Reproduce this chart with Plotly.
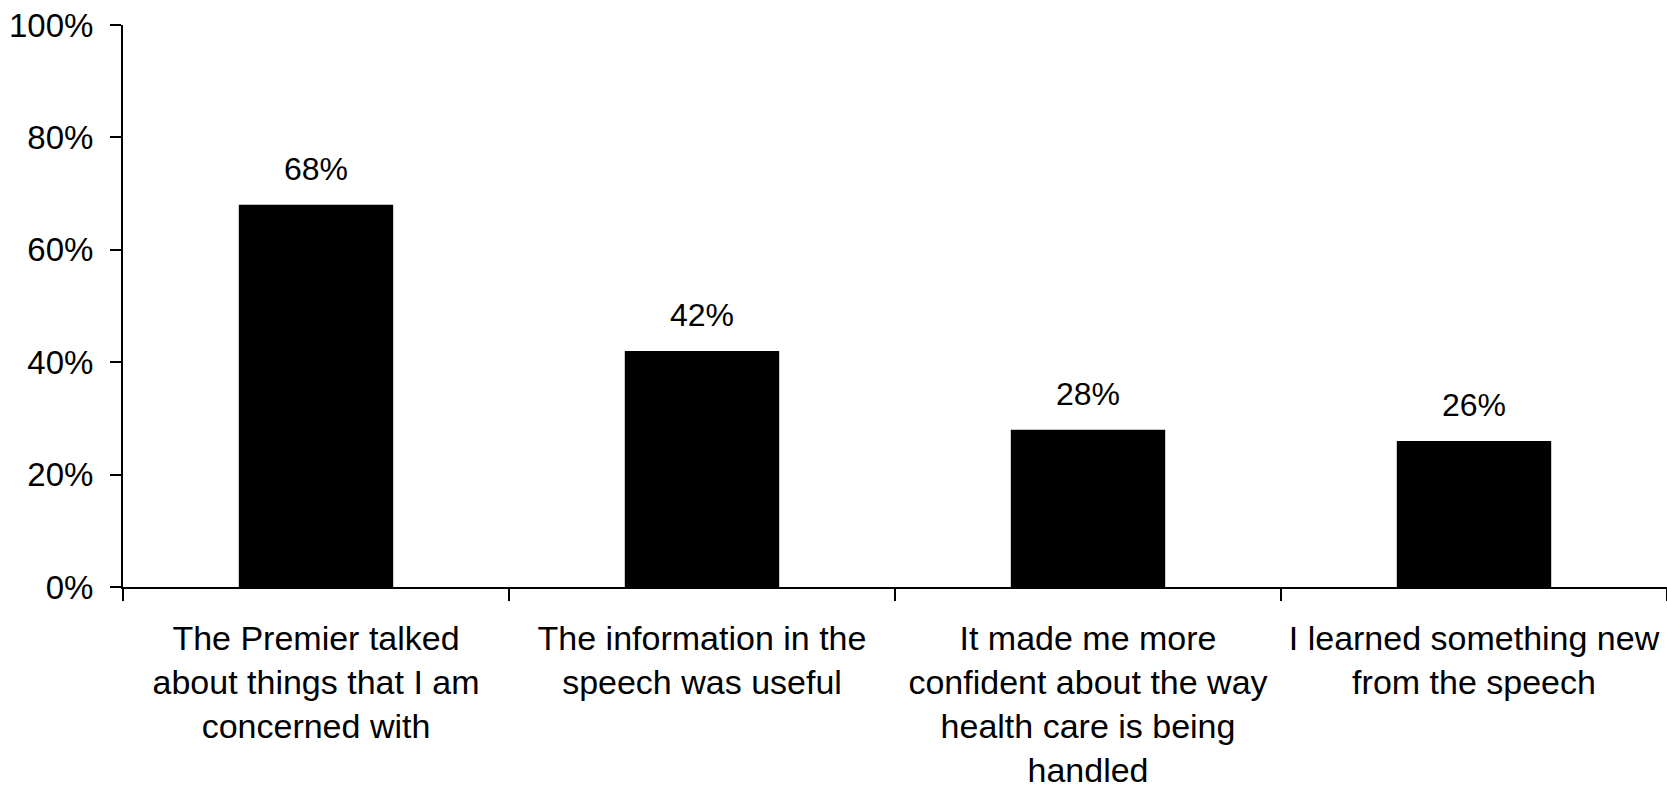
import plotly.graph_objects as go

categories = [
    "The Premier talked<br>about things that I am<br>concerned with",
    "The information in the<br>speech was useful",
    "It made me more<br>confident about the way<br>health care is being<br>handled",
    "I learned something new<br>from the speech",
]
values = [68, 42, 28, 26]
value_labels = ["68%", "42%", "28%", "26%"]
y_ticks = [0, 20, 40, 60, 80, 100]
y_tick_labels = ["0%", "20%", "40%", "60%", "80%", "100%"]

FONT = "Liberation Sans, Arial, sans-serif"

fig = go.Figure()
fig.add_trace(go.Bar(
    x=categories, y=values,
    marker=dict(color="#000000", line=dict(width=0)),
    width=0.4,
    hoverinfo="skip",
))

for c, v, t in zip(categories, values, value_labels):
    fig.add_annotation(x=c, y=v, text=t, showarrow=False, xref="x", yref="y",
                       yanchor="bottom", yshift=16,
                       font=dict(family=FONT, size=32, color="#000000"))

fig.update_layout(
    width=1667, height=791,
    margin=dict(l=123, r=0, t=25, b=204),
    paper_bgcolor="white", plot_bgcolor="white",
    showlegend=False,
    font=dict(family=FONT, size=33, color="#000000"),
)
fig.update_xaxes(
    type="category",
    automargin=False,
    tickson="boundaries",
    ticks="outside", ticklen=12, tickwidth=2, tickcolor="#000000",
    showline=True, linecolor="#000000", linewidth=2,
    showgrid=False, zeroline=False,
    ticklabelstandoff=20,
    tickfont=dict(family=FONT, size=34, color="#000000"),
)
fig.update_yaxes(
    range=[0, 100],
    automargin=False,
    tickvals=y_ticks, ticktext=y_tick_labels,
    ticks="outside", ticklen=11, tickwidth=2, tickcolor="#000000",
    showline=True, linecolor="#000000", linewidth=2,
    showgrid=False, zeroline=False,
    ticklabelstandoff=10,
    tickfont=dict(family=FONT, size=33, color="#000000"),
)

fig.write_html(
    "out.html",
    config={"displayModeBar": False},
    post_script="document.body.style.margin='0';document.body.style.overflow='hidden';",
)
